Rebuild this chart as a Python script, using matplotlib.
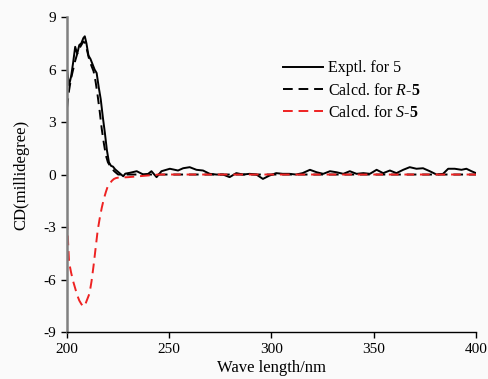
import matplotlib.pyplot as plt

plt.rcParams['font.family'] = 'Liberation Serif'
plt.rcParams['mathtext.fontset'] = 'custom'
plt.rcParams['mathtext.rm'] = 'Liberation Serif'
plt.rcParams['mathtext.it'] = 'Liberation Serif:italic'
plt.rcParams['mathtext.bf'] = 'Liberation Serif:bold'
plt.rcParams['axes.unicode_minus'] = False

# experimental CD spectrum
exp_x = [200, 201, 202, 203, 204, 205, 206, 207, 208, 208.7, 209.5, 210.5, 211.5,
         212.5, 213.5, 214.5, 215.5, 216.5, 217.5, 218.5, 219.5, 220.5, 221.5,
         222.5, 223.5, 224.5, 225.5, 226.5, 227.5, 228.5, 230.8, 234.1, 237.3,
         239.7, 241.3, 243.8, 246.2, 250.3, 254.3, 256.8, 260, 263.3, 266.5,
         269.8, 273, 276.3, 279.5, 282.8, 286, 289.3, 292.6, 295.8, 299, 302.3,
         305.5, 308.7, 312, 315.2, 318.8, 322.1, 325.3, 328.6, 331.8, 335.1,
         338.3, 341.6, 344.9, 348.1, 351.4, 354.6, 357.9, 361.1, 364.4, 367.6,
         370.9, 374.1, 377.4, 380.7, 383.9, 386.4, 389.6, 392.9, 395.3, 397.8, 400]
exp_y = [6.0, 5.1, 5.6, 6.4, 7.3, 6.9, 7.4, 7.5, 7.8, 7.9, 7.5, 6.8, 6.6,
         6.3, 6.0, 5.8, 5.0, 4.3, 3.3, 2.4, 1.4, 0.7, 0.5,
         0.45, 0.3, 0.2, 0.1, 0.0, -0.1, 0.05, 0.1, 0.19, 0.0,
         0.04, 0.19, -0.15, 0.19, 0.33, 0.23, 0.36, 0.42, 0.27, 0.23,
         0.04, 0.0, 0.0, -0.15, 0.08, 0.0, 0.04, 0.0, -0.25, -0.06, 0.08,
         0.04, 0.04, 0.0, 0.08, 0.27, 0.13, 0.04, 0.19, 0.13, 0.04,
         0.19, 0.04, 0.08, 0.04, 0.27, 0.08, 0.23, 0.08, 0.27, 0.42,
         0.33, 0.36, 0.19, 0.0, 0.04, 0.33, 0.33, 0.27, 0.33, 0.19, 0.08]

# calculated spectrum for R-5
r_x = [200, 201, 202, 203, 204, 205, 206, 207, 208, 209, 210, 211, 212, 213,
       214, 215, 216, 217, 218, 219, 220, 221, 222, 223, 224, 225, 230, 400]
r_y = [3.8, 4.8, 5.5, 6.0, 6.5, 6.9, 7.2, 7.4, 7.6, 7.5, 7.0, 6.5, 6.2, 5.9,
       5.3, 4.5, 3.6, 2.6, 1.8, 1.1, 0.7, 0.5, 0.35, 0.2, 0.1, 0.0, 0.0, 0.0]

# calculated spectrum for S-5
s_x = [200, 201, 202, 203, 204, 205, 206, 207, 208, 209, 210, 211, 212, 213,
       214, 215, 216, 217, 218, 219, 220, 221, 222, 223, 224, 225, 230, 235,
       240, 245, 400]
s_y = [-2.6, -5.0, -5.6, -6.1, -6.5, -6.9, -7.2, -7.4, -7.55, -7.4, -7.1, -6.8,
       -6.1, -5.2, -4.2, -3.2, -2.5, -1.9, -1.4, -1.0, -0.65, -0.5, -0.35, -0.25,
       -0.2, -0.18, -0.15, -0.1, -0.05, 0.0, 0.0]

fig = plt.figure(figsize=(4.88, 3.79), dpi=100, facecolor='#fafafa')
ax = fig.add_axes([0.1373, 0.124, 0.8381, 0.831])
ax.set_facecolor('#fafafa')

ax.plot(exp_x, exp_y, color='black', linewidth=1.4, label='Exptl. for 5')
ax.plot(r_x, r_y, color='black', linewidth=1.4, linestyle=(0, (5, 3)),
        label=r'Calcd. for $\mathit{R}$-$\mathbf{5}$')
ax.plot(s_x, s_y, color='#ee2222', linewidth=1.4, linestyle=(0, (5, 3)),
        label=r'Calcd. for $\mathit{S}$-$\mathbf{5}$')

ax.set_xlim(200, 400)
ax.set_ylim(-9, 9)
ax.set_xticks([200, 250, 300, 350, 400])
ax.set_yticks([-9, -6, -3, 0, 3, 6, 9])

ax.spines['top'].set_visible(False)
ax.spines['right'].set_visible(False)
ax.spines['left'].set_color('#808080')
ax.spines['left'].set_linewidth(1.8)
ax.spines['bottom'].set_linewidth(1.0)
ax.tick_params(axis='both', labelsize=11, direction='out', length=4.5, width=1.0)

ax.set_xlabel('Wave length/nm', fontsize=12, labelpad=3)
ax.set_ylabel('CD(millidegree)', fontsize=12, labelpad=10)

ax.legend(loc='upper left', bbox_to_anchor=(0.512, 0.883), borderaxespad=0,
          frameon=False, fontsize=11.5, handlelength=2.5, handletextpad=0.3,
          labelspacing=0.4)

fig.savefig('out.png', dpi=100, facecolor=fig.get_facecolor())
